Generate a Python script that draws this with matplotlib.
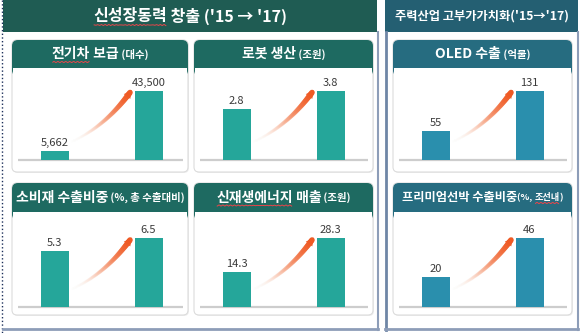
import numpy as np
import matplotlib
matplotlib.use("Agg")
import matplotlib.pyplot as plt
from matplotlib.patches import Rectangle, FancyBboxPatch, Polygon
from matplotlib.collections import LineCollection
from matplotlib.colors import to_rgb

plt.rcParams["font.family"] = ["Noto Sans CJK KR", "DejaVu Sans"]

# 데이터 ('15 -> '17)
lTitoli = ["전기차 보급", "로봇 생산", "OLED 수출",
           "소비재 수출비중", "신재생에너지 매출", "프리미엄선박 수출비중"]
lUnita = ["(대수)", "(조원)", "(억불)", "(%, 총 수출대비)", "(조원)", "(%, 조선내)"]
lSpazio = [" ", " ", " ", " ", " ", ""]
v2015 = [5662, 2.8, 55, 5.3, 14.3, 20]
v2017 = [43500, 3.8, 131, 6.5, 28.3, 46]
lab2015 = ["5,662", "2.8", "55", "5.3", "14.3", "20"]
lab2017 = ["43,500", "3.8", "131", "6.5", "28.3", "46"]
# parole sottolineate (correttore ortografico nello screenshot)
lSottolinea = ["전기차", None, None, None, "신재생에너지", None]

W, H = 580, 333
fig = plt.figure(figsize=(W / 100, H / 100), dpi=100)
bg = fig.add_axes([0, 0, 1, 1])
bg.set_xlim(0, W)
bg.set_ylim(H, 0)
bg.axis("off")

verdeScuro = "#1f5c53"
bluScuro = "#245f72"
verdeCard = "#1e6a61"
bluCard = "#266c80"
verdeBar = "#25a69a"
bluBar = "#2a8fad"

# cornici delle sezioni
bg.add_patch(Rectangle((3, 0), 374, 32, color=verdeScuro, lw=0))
bg.add_patch(Rectangle((385, 0), 193, 32, color=bluScuro, lw=0))
bg.plot([2, 2], [0, H], ls=":", color="#1c2f5a", lw=1)
bg.plot([378, 378], [32, 330], color="#8d9db8", lw=1.5)
bg.plot([385.5, 385.5], [32, 330], color="#6f86a6", lw=2)
bg.plot([578, 578], [32, 330], color="#8d9db8", lw=1.5)
bg.plot([3, 378], [329, 329], color="#8d9db8", lw=2)
bg.plot([385, 578], [329, 329], color="#8d9db8", lw=2)

renderer = fig.canvas.get_renderer()


def testoMisto(xc, yc, segmenti):
    # segmenti: (testo, size, sottolineato)
    lT = []
    for testo, size, sott in segmenti:
        t = bg.text(0, yc, testo, fontsize=size, fontweight="bold", color="white",
                    ha="left", va="center")
        lT.append((t, sott))
    larg = [t.get_window_extent(renderer).width for t, s in lT]
    x = xc - sum(larg) / 2
    for (t, sott), w in zip(lT, larg):
        t.set_x(x)
        if sott:
            bb = t.get_window_extent(renderer)
            yb = H - bb.y0 + 1
            xs = np.linspace(x + 1, x + w - 1, 40)
            bg.plot(xs, yb + 0.6 * np.sin(xs * 1.6), color="#e8454a", lw=0.7)
        x += w


testoMisto(190, 16, [("신성장동력", 11.5, True), (" 창출 ('15 → '17)", 11.5, False)])
testoMisto(482, 16, [("주력산업 고부가가치화('15→'17)", 8.8, False)])

colonne = [(12, 188), (194, 373), (393, 572)]
righe = [(40, 68, 172, 159.5), (183, 212, 315, 307)]
ordine = [(0, 0), (0, 1), (0, 2), (1, 0), (1, 1), (1, 2)]
hBarra = 69


def freccia(x0, y0, x1, y1, xc, yc):
    t = np.linspace(0, 1, 50)
    xs = (1 - t) ** 2 * x0 + 2 * (1 - t) * t * xc + t ** 2 * x1
    ys = (1 - t) ** 2 * y0 + 2 * (1 - t) * t * yc + t ** 2 * y1
    pts = np.column_stack([xs, ys])
    seg = np.stack([pts[:-1], pts[1:]], axis=1)
    c0 = np.array(to_rgb("#fde3d3"))
    c1 = np.array(to_rgb("#ef5a24"))
    tm = t[1:]
    colori = [tuple(c0 + (c1 - c0) * k) + (min(1, 0.02 + 1.0 * k ** 1.6),) for k in tm]
    bg.add_collection(LineCollection(seg, colors=colori, linewidths=1.5 + 2.5 * tm,
                                     capstyle="round"))
    d = np.array([x1 - xc, y1 - yc])
    d = d / np.hypot(*d)
    n = np.array([-d[1], d[0]])
    punta = np.array([x1, y1]) + d * 3
    base = np.array([x1, y1]) - d * 5
    bg.add_patch(Polygon([punta, base + n * 4, base - n * 4], color="#ef5a24", lw=0))


for i, (r, c) in enumerate(ordine):
    cl, cr = colonne[c]
    ht, hb, bb, base = righe[r]
    destra = c == 2
    colHead = bluCard if destra else verdeCard
    colBar = bluBar if destra else verdeBar

    # ombra + corpo della card
    bg.add_patch(FancyBboxPatch((cl + 1, ht + 1), cr - cl, bb - ht,
                                boxstyle="round,pad=0,rounding_size=5",
                                fc="#eeeeee", ec="none"))
    bg.add_patch(FancyBboxPatch((cl, ht), cr - cl, bb - ht,
                                boxstyle="round,pad=0,rounding_size=5",
                                fc="white", ec="#dcdcdc", lw=0.8))
    bg.add_patch(FancyBboxPatch((cl, ht), cr - cl, hb - ht + 8,
                                boxstyle="round,pad=0,rounding_size=6",
                                fc=colHead, ec="none"))
    bg.add_patch(Rectangle((cl + 0.8, hb), cr - cl - 1.6, 9, fc="white", ec="none"))

    # titolo della card
    sMain, sUnit = (8.8, 6.6) if i == 5 else (10, 7.5)
    segm = []
    titolo = lTitoli[i]
    sott = lSottolinea[i]
    if sott:
        segm.append((sott, sMain, True))
        segm.append((titolo[len(sott):], sMain, False))
    else:
        segm.append((titolo, sMain, False))
    if i == 5:
        segm.append(("(%, ", sUnit, False))
        segm.append(("조선내", sUnit, True))
        segm.append((")", sUnit, False))
    else:
        segm.append((lSpazio[i] + lUnita[i], sUnit, False))
    testoMisto((cl + cr) / 2, (ht + hb) / 2, segm)

    # linea di base
    bg.plot([cl + 6, cr - 5], [base, base], color="#cdcdcd", lw=1.6,
            solid_capstyle="butt", zorder=1)

    # barre
    x0 = cl + 6
    w = (cr - 5) - x0
    passo = 94
    ax = fig.add_axes([x0 / W, (H - base) / H, w / W, hBarra / H])
    ax.set_xlim(-36.5 / passo, (w - 36.5) / passo)
    ax.set_ylim(0, v2017[i])
    ax.axis("off")
    ax.patch.set_alpha(0)
    ax.bar([0, 1], [v2015[i], v2017[i]], width=28 / passo, color=colBar)
    for xx, vv, ll in zip([0, 1], [v2015[i], v2017[i]], [lab2015[i], lab2017[i]]):
        ax.annotate(ll, (xx, vv), xytext=(0, 2), textcoords="offset points",
                    ha="center", va="bottom", fontsize=8, color="#3a3a3a",
                    annotation_clip=False)

    # freccia decorativa
    freccia(cl + 60, base - 18, cl + 118, base - 67, cl + 93, base - 33)

fig.savefig("out.png", dpi=100)
